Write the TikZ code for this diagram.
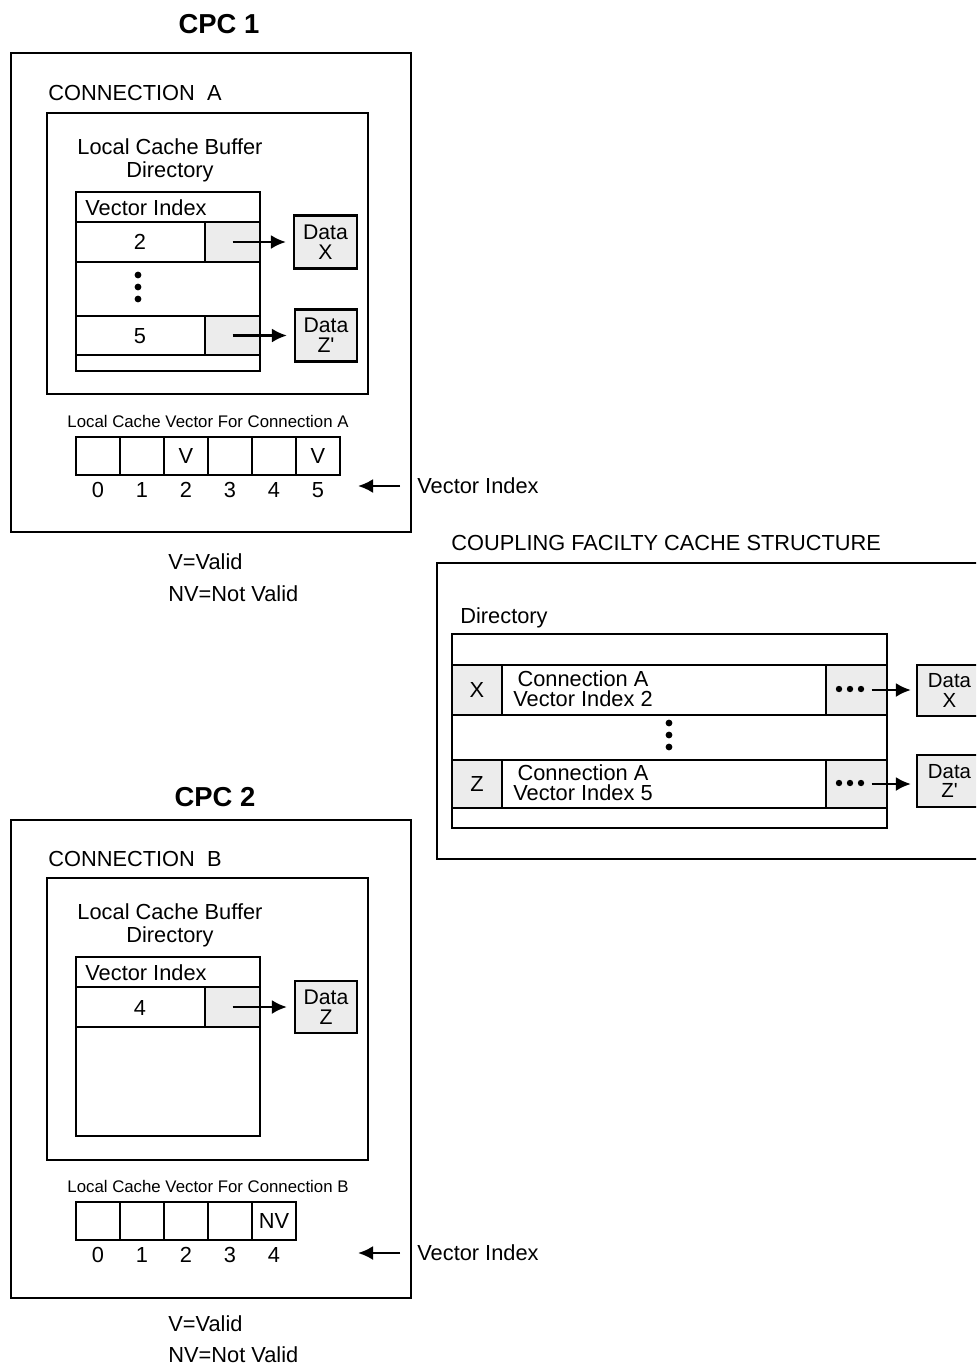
\documentclass[tikz,border=0pt]{standalone}
\usepackage{fontspec}
\setmainfont{Liberation Sans}
\usetikzlibrary{arrows.meta,calc}
\definecolor{cellgray}{RGB}{236,236,236}

\tikzset{
  boxline/.style={draw, line width=1.1pt},
  txt/.style={inner sep=0, font=\fontsize{10.9}{11.5}\selectfont},
  smalltxt/.style={inner sep=0, font=\fontsize{8.4}{10}\selectfont},
  rowtxt/.style={inner sep=0, align=center, font=\fontsize{10.9}{10}\selectfont},
  cpctitle/.style={inner sep=0, font=\bfseries\fontsize{13.7}{16}\selectfont},
  graycell/.style={draw, line width=1.1pt, fill=cellgray, inner sep=0, font=\fontsize{10.9}{11.5}\selectfont},
  vcell/.style={draw, line width=1.1pt, inner sep=0, minimum width=22pt, minimum height=19pt, font=\fontsize{10.9}{11.5}\selectfont},
  databox/.style={draw, line width=1.1pt, fill=cellgray, inner sep=0, align=center, font=\fontsize{10.6}{10}\selectfont},
  cfdata/.style={databox, minimum width=32.5pt, font=\fontsize{10.2}{9.8}\selectfont},
  ptr/.style={-{Latex[length=7.5pt,width=7pt]}, line width=1.2pt},
}

\begin{document}
\begin{tikzpicture}[x=0.5pt, y=-0.5pt]
    \useasboundingbox (0,0) rectangle (976,1365);
    \clip (0,0) rectangle (976,1365);

    % CPC 1
    \node[cpctitle] (cpc1) at (219,24) {CPC 1};
    \draw[boxline] (11,53) rectangle (411,532);
    \node[txt, anchor=west] (conA) at (48,92.5) {CONNECTION\ \ A};
    \draw[boxline] (47,113) rectangle (368,394);
    \node[txt, align=center] (lcbA) at (170,160) {Local Cache Buffer\\Directory};
    \node[graycell, minimum width=27.5pt, minimum height=20pt] (gA2) at (232.5,242) {};
    \node[graycell, minimum width=27.5pt, minimum height=19.5pt] (gA5) at (232.5,335.5) {};
    \draw[boxline] (76,192) rectangle (260,371);
    \draw[boxline] (76,222) -- (260,222) (76,262) -- (260,262) (76,316) -- (260,316) (76,355) -- (260,355);
    \node[txt, anchor=west] (vihA) at (85,208) {Vector Index};
    \node[txt] (rA2) at (140,242) {2};
    \node[txt] (rA5) at (140,336) {5};
    \foreach \y in {275,287,299} \fill (138,\y) circle (1.7pt);
    \node[databox, minimum width=31.5pt, minimum height=26.5pt] (dX1) at (325.5,242) {Data\\X};
    \node[databox, minimum width=31pt, minimum height=26pt] (dZ1) at (326,335.5) {Data\\Z\textquotesingle};
    \draw[ptr, shorten >=3.5pt] (gA2.center) -- (dX1.west);
    \draw[ptr, shorten >=3.5pt] (gA5.center) -- (dZ1.west);

    \node[smalltxt] (lcvA) at (208,421) {Local Cache Vector For Connection A};
    \foreach \i/\v in {0/,1/,2/V,3/,4/,5/V}{
      \node[vcell] (vA\i) at ({98+44*\i},456) {\v};
      \node[txt] (nA\i) at ({98+44*\i},490) {\i};
    }
    \node[txt, anchor=west] (viA) at (417,486) {Vector Index};
    \coordinate (tipA) at (358,486);
    \draw[ptr, shorten <=8.5pt] (viA.west) -- (tipA);
    \node[txt, anchor=west] (legVA) at (168,562) {V=Valid};
    \node[txt, anchor=west] (legNVA) at (168,594) {NV=Not Valid};

    % CPC 2
    \node[cpctitle] (cpc2) at (215,797) {CPC 2};
    \draw[boxline] (11,820) rectangle (411,1298);
    \node[txt, anchor=west] (conB) at (48,859) {CONNECTION\ \ B};
    \draw[boxline] (47,878) rectangle (368,1160);
    \node[txt, align=center] (lcbB) at (170,925) {Local Cache Buffer\\Directory};
    \node[graycell, minimum width=27.5pt, minimum height=20pt] (gB4) at (232.5,1007) {};
    \draw[boxline] (76,957) rectangle (260,1136);
    \draw[boxline] (76,987) -- (260,987) (76,1027) -- (260,1027);
    \node[txt, anchor=west] (vihB) at (85,973) {Vector Index};
    \node[txt] (rB4) at (140,1008) {4};
    \node[databox, minimum width=31pt, minimum height=26pt] (dZ2) at (326,1007) {Data\\Z};
    \draw[ptr, shorten >=3.5pt] (gB4.center) -- (dZ2.west);

    \node[smalltxt] (lcvB) at (208,1186) {Local Cache Vector For Connection B};
    \foreach \i/\v in {0/,1/,2/,3/,4/NV}{
      \node[vcell] (vB\i) at ({98+44*\i},1221) {\v};
      \node[txt] (nB\i) at ({98+44*\i},1255) {\i};
    }
    \node[txt, anchor=west] (viB) at (417,1253) {Vector Index};
    \coordinate (tipB) at (358,1253);
    \draw[ptr, shorten <=8.5pt] (viB.west) -- (tipB);
    \node[txt, anchor=west] (legVB) at (168,1324) {V=Valid};
    \node[txt, anchor=west] (legNVB) at (168,1355) {NV=Not Valid};

    % coupling facility
    \node[txt, anchor=west] (cft) at (451,543) {COUPLING FACILTY CACHE STRUCTURE};
    \draw[boxline] (437,563) rectangle (1000,859);
    \node[txt, anchor=west] (cfdir) at (460,618) {Directory};
    \node[graycell, minimum width=25pt, minimum height=25pt] (cX) at (477,690) {X};
    \node[graycell, minimum width=30.5pt, minimum height=25pt] (cXp) at (856.5,690) {};
    \node[graycell, minimum width=25pt, minimum height=24pt] (cZ) at (477,784) {Z};
    \node[graycell, minimum width=30.5pt, minimum height=24pt] (cZp) at (856.5,784) {};
    \draw[boxline] (452,634) rectangle (887,828);
    \draw[boxline] (452,665) -- (887,665) (452,715) -- (887,715) (452,760) -- (887,760) (452,808) -- (887,808);
    \node[rowtxt] (cAX) at (583,689) {Connection A\\Vector Index 2};
    \node[rowtxt] (cAZ) at (583,783) {Connection A\\Vector Index 5};
    \foreach \y in {723,735,747} \fill (669,\y) circle (1.7pt);
    \foreach \x in {839,850,861}{
      \fill (\x,689) circle (1.6pt);
      \fill (\x,783) circle (1.6pt);
    }
    \node[cfdata, minimum height=25.5pt] (cdX) at (949.5,690.5) {Data\\X};
    \node[cfdata, minimum height=26pt] (cdZ) at (949.5,781) {Data\\Z\textquotesingle};
    \draw[ptr, shorten <=7.5pt, shorten >=2.5pt] (cXp.center) -- (cXp.center -| cdX.west);
    \draw[ptr, shorten <=7.5pt, shorten >=2.5pt] (cZp.center) -- (cZp.center -| cdZ.west);
\end{tikzpicture}
\end{document}
